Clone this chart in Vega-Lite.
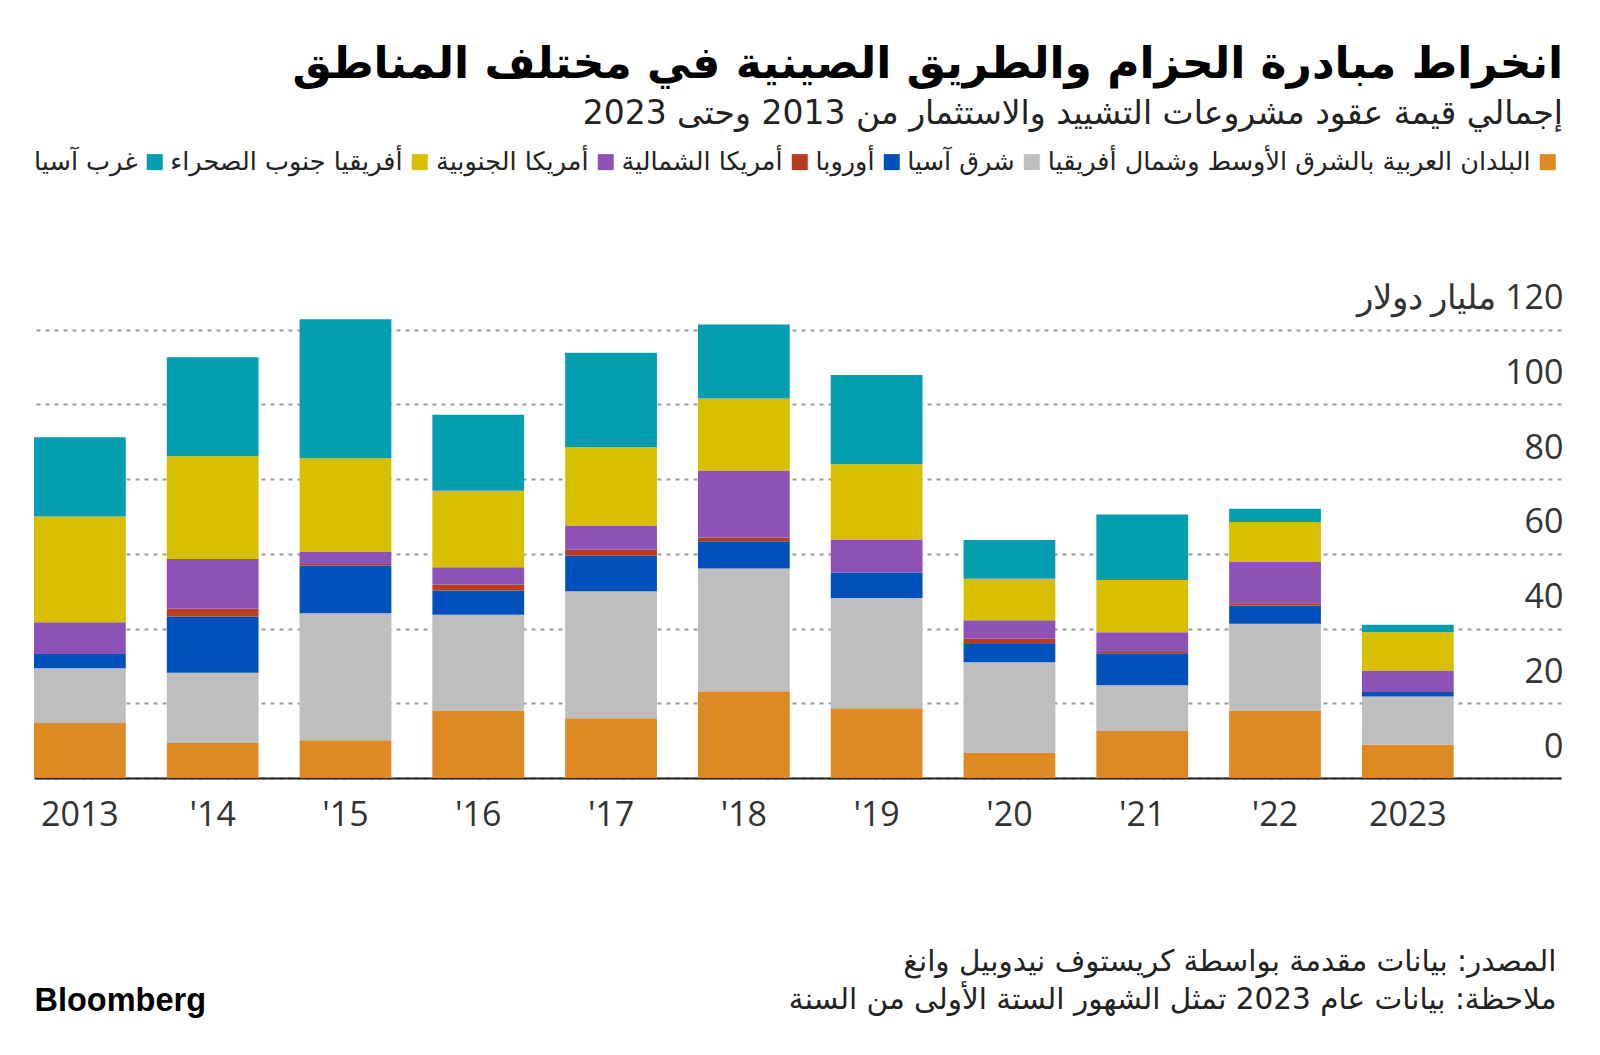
{
  "$schema": "https://vega.github.io/schema/vega-lite/v6.json",
  "width": 1527,
  "height": 467,
  "autosize": {"type": "none"},
  "padding": {"left": 34, "top": 311, "right": 39, "bottom": 277},
  "background": "white",
  "title": {
    "text": "انخراط مبادرة الحزام والطريق الصينية في مختلف المناطق",
    "subtitle": "إجمالي قيمة عقود مشروعات التشييد والاستثمار من 2013 وحتى 2023",
    "anchor": "end",
    "font": "DejaVu Sans",
    "fontSize": 44,
    "fontWeight": "bold",
    "color": "#000000",
    "subtitleFont": "DejaVu Sans",
    "subtitleFontSize": 33,
    "subtitleColor": "#222222",
    "subtitlePadding": 11,
    "offset": 18
  },
  "data": {
    "values": [
      {"year": "2013", "region": "البلدان العربية بالشرق الأوسط وشمال أفريقيا", "value": 14.7},
      {"year": "2013", "region": "شرق آسيا", "value": 14.7},
      {"year": "2013", "region": "أوروبا", "value": 3.8},
      {"year": "2013", "region": "أمريكا الشمالية", "value": 0},
      {"year": "2013", "region": "أمريكا الجنوبية", "value": 8.5},
      {"year": "2013", "region": "أفريقيا جنوب الصحراء", "value": 28.3},
      {"year": "2013", "region": "غرب آسيا", "value": 21.2},
      {"year": "'14", "region": "البلدان العربية بالشرق الأوسط وشمال أفريقيا", "value": 9.4},
      {"year": "'14", "region": "شرق آسيا", "value": 18.8},
      {"year": "'14", "region": "أوروبا", "value": 15.0},
      {"year": "'14", "region": "أمريكا الشمالية", "value": 2.1},
      {"year": "'14", "region": "أمريكا الجنوبية", "value": 13.3},
      {"year": "'14", "region": "أفريقيا جنوب الصحراء", "value": 27.5},
      {"year": "'14", "region": "غرب آسيا", "value": 26.5},
      {"year": "'15", "region": "البلدان العربية بالشرق الأوسط وشمال أفريقيا", "value": 10.1},
      {"year": "'15", "region": "شرق آسيا", "value": 34.0},
      {"year": "'15", "region": "أوروبا", "value": 12.8},
      {"year": "'15", "region": "أمريكا الشمالية", "value": 0.4},
      {"year": "'15", "region": "أمريكا الجنوبية", "value": 3.2},
      {"year": "'15", "region": "أفريقيا جنوب الصحراء", "value": 25.1},
      {"year": "'15", "region": "غرب آسيا", "value": 37.2},
      {"year": "'16", "region": "البلدان العربية بالشرق الأوسط وشمال أفريقيا", "value": 18.1},
      {"year": "'16", "region": "شرق آسيا", "value": 25.6},
      {"year": "'16", "region": "أوروبا", "value": 6.5},
      {"year": "'16", "region": "أمريكا الشمالية", "value": 1.6},
      {"year": "'16", "region": "أمريكا الجنوبية", "value": 4.6},
      {"year": "'16", "region": "أفريقيا جنوب الصحراء", "value": 20.5},
      {"year": "'16", "region": "غرب آسيا", "value": 20.3},
      {"year": "'17", "region": "البلدان العربية بالشرق الأوسط وشمال أفريقيا", "value": 16.0},
      {"year": "'17", "region": "شرق آسيا", "value": 34.0},
      {"year": "'17", "region": "أوروبا", "value": 9.5},
      {"year": "'17", "region": "أمريكا الشمالية", "value": 1.6},
      {"year": "'17", "region": "أمريكا الجنوبية", "value": 6.5},
      {"year": "'17", "region": "أفريقيا جنوب الصحراء", "value": 20.9},
      {"year": "'17", "region": "غرب آسيا", "value": 25.3},
      {"year": "'18", "region": "البلدان العربية بالشرق الأوسط وشمال أفريقيا", "value": 23.2},
      {"year": "'18", "region": "شرق آسيا", "value": 32.9},
      {"year": "'18", "region": "أوروبا", "value": 7.3},
      {"year": "'18", "region": "أمريكا الشمالية", "value": 1.0},
      {"year": "'18", "region": "أمريكا الجنوبية", "value": 17.9},
      {"year": "'18", "region": "أفريقيا جنوب الصحراء", "value": 19.3},
      {"year": "'18", "region": "غرب آسيا", "value": 19.8},
      {"year": "'19", "region": "البلدان العربية بالشرق الأوسط وشمال أفريقيا", "value": 18.7},
      {"year": "'19", "region": "شرق آسيا", "value": 29.5},
      {"year": "'19", "region": "أوروبا", "value": 6.8},
      {"year": "'19", "region": "أمريكا الشمالية", "value": 0},
      {"year": "'19", "region": "أمريكا الجنوبية", "value": 8.7},
      {"year": "'19", "region": "أفريقيا جنوب الصحراء", "value": 20.3},
      {"year": "'19", "region": "غرب آسيا", "value": 23.9},
      {"year": "'20", "region": "البلدان العربية بالشرق الأوسط وشمال أفريقيا", "value": 6.7},
      {"year": "'20", "region": "شرق آسيا", "value": 24.3},
      {"year": "'20", "region": "أوروبا", "value": 4.9},
      {"year": "'20", "region": "أمريكا الشمالية", "value": 1.4},
      {"year": "'20", "region": "أمريكا الجنوبية", "value": 4.9},
      {"year": "'20", "region": "أفريقيا جنوب الصحراء", "value": 11.1},
      {"year": "'20", "region": "غرب آسيا", "value": 10.4},
      {"year": "'21", "region": "البلدان العربية بالشرق الأوسط وشمال أفريقيا", "value": 12.6},
      {"year": "'21", "region": "شرق آسيا", "value": 12.2},
      {"year": "'21", "region": "أوروبا", "value": 8.6},
      {"year": "'21", "region": "أمريكا الشمالية", "value": 0.3},
      {"year": "'21", "region": "أمريكا الجنوبية", "value": 5.3},
      {"year": "'21", "region": "أفريقيا جنوب الصحراء", "value": 14.0},
      {"year": "'21", "region": "غرب آسيا", "value": 17.5},
      {"year": "'22", "region": "البلدان العربية بالشرق الأوسط وشمال أفريقيا", "value": 18.1},
      {"year": "'22", "region": "شرق آسيا", "value": 23.2},
      {"year": "'22", "region": "أوروبا", "value": 4.9},
      {"year": "'22", "region": "أمريكا الشمالية", "value": 0.6},
      {"year": "'22", "region": "أمريكا الجنوبية", "value": 11.0},
      {"year": "'22", "region": "أفريقيا جنوب الصحراء", "value": 10.7},
      {"year": "'22", "region": "غرب آسيا", "value": 3.6},
      {"year": "2023", "region": "البلدان العربية بالشرق الأوسط وشمال أفريقيا", "value": 8.9},
      {"year": "2023", "region": "شرق آسيا", "value": 12.9},
      {"year": "2023", "region": "أوروبا", "value": 1.2},
      {"year": "2023", "region": "أمريكا الشمالية", "value": 0},
      {"year": "2023", "region": "أمريكا الجنوبية", "value": 5.8},
      {"year": "2023", "region": "أفريقيا جنوب الصحراء", "value": 10.2},
      {"year": "2023", "region": "غرب آسيا", "value": 2.0}
    ]
  },
  "transform": [
    {"calculate": "indexof(['البلدان العربية بالشرق الأوسط وشمال أفريقيا','شرق آسيا','أوروبا','أمريكا الشمالية','أمريكا الجنوبية','أفريقيا جنوب الصحراء','غرب آسيا'], datum.region)", "as": "rank"}
  ],
  "mark": {"type": "bar", "strokeWidth": 0},
  "encoding": {
    "x": {
      "field": "year",
      "type": "nominal",
      "sort": null,
      "scale": {"paddingInner": 0.309, "paddingOuter": 0.404, "align": 0},
      "axis": {
        "title": ["المصدر: بيانات مقدمة بواسطة كريستوف نيدوبيل وانغ", "ملاحظة: بيانات عام 2023 تمثل الشهور الستة الأولى من السنة"],
        "titleFont": "DejaVu Sans",
        "titleFontSize": 29.5,
        "titleFontWeight": "normal",
        "titleColor": "#222222",
        "titleAnchor": "end",
        "titleAlign": "right",
        "titleBaseline": "top",
        "titleX": 1522,
        "titleY": 169,
        "titleLineHeight": 38,
        "labelAngle": 0,
        "labelFont": "Open Sans",
        "labelFontSize": 34,
        "labelColor": "#333333",
        "labelPadding": 20,
        "ticks": false,
        "tickSize": 0,
        "domainColor": "#222222",
        "domainWidth": 2,
        "grid": false
      }
    },
    "y": {
      "field": "value",
      "type": "quantitative",
      "stack": "zero",
      "scale": {"domain": [0, 125], "nice": false},
      "axis": {
        "orient": "right",
        "values": [0, 20, 40, 60, 80, 100, 120],
        "labelExpr": "datum.value == 120 ? 'مليار دولار\u200E 120' : datum.label",
        "labelLimit": 500,
        "title": "Bloomberg",
        "titleFont": "Liberation Sans",
        "titleFontSize": 32.5,
        "titleFontWeight": "bold",
        "titleColor": "#000000",
        "titleAngle": 0,
        "titleAlign": "left",
        "titleBaseline": "middle",
        "titleX": -1527,
        "titleY": 689,
        "labelFont": "Open Sans",
        "labelFontSize": 34,
        "labelColor": "#333333",
        "labelAlign": "right",
        "labelBaseline": "alphabetic",
        "labelOffset": -21,
        "labelPadding": 2,
        "ticks": false,
        "tickSize": 0,
        "domain": false,
        "grid": true,
        "gridColor": "#9a9a9a",
        "gridDash": [4, 5],
        "gridWidth": 2
      }
    },
    "color": {
      "field": "region",
      "type": "nominal",
      "scale": {
        "domain": ["غرب آسيا", "أفريقيا جنوب الصحراء", "أمريكا الجنوبية", "أمريكا الشمالية", "أوروبا", "شرق آسيا", "البلدان العربية بالشرق الأوسط وشمال أفريقيا"],
        "range": ["#049eb0", "#d8bf00", "#8e52b6", "#b73c20", "#0051bc", "#bebebe", "#de8a24"]
      },
      "legend": {
        "title": null,
        "orient": "none",
        "direction": "horizontal",
        "columns": 7,
        "legendX": 108,
        "legendY": -162,
        "symbolType": "square",
        "symbolSize": 256,
        "symbolStrokeWidth": 0,
        "symbolOpacity": 1,
        "labelFont": "DejaVu Sans",
        "labelFontSize": 25.5,
        "labelColor": "#222222",
        "labelAlign": "right",
        "labelOffset": -30,
        "labelLimit": 1000,
        "columnPadding": 7
      }
    },
    "order": {"field": "rank", "type": "quantitative", "sort": "ascending"}
  },
  "config": {"view": {"stroke": null}}
}
